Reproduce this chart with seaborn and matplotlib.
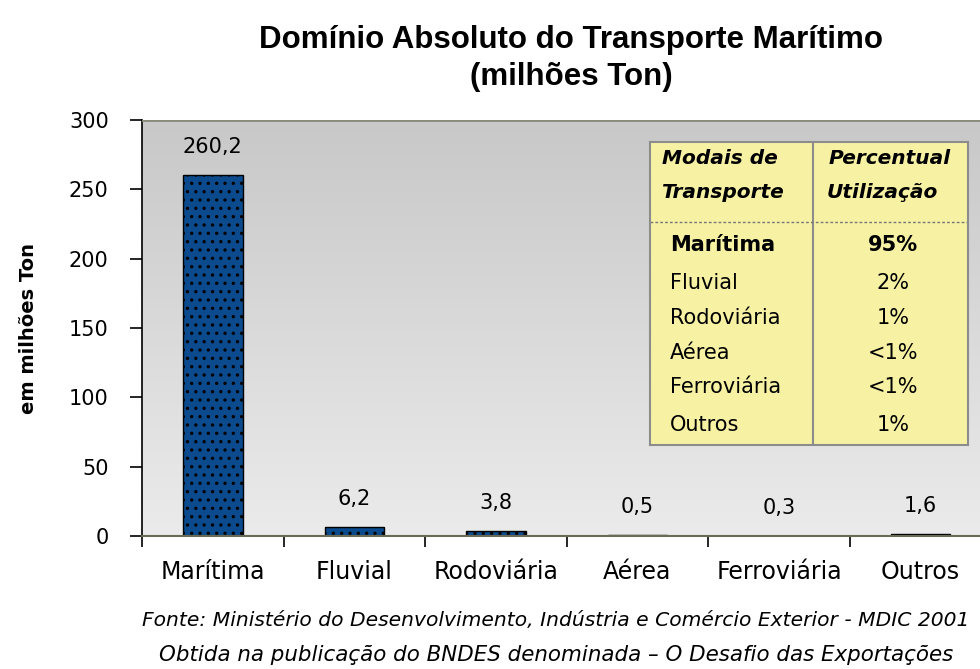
import numpy as np
import pandas as pd
import matplotlib
matplotlib.use("Agg")
import matplotlib.pyplot as plt
import seaborn as sns

# dados do gráfico
modais = ["Marítima", "Fluvial", "Rodoviária", "Aérea", "Ferroviária", "Outros"]
milhoes_ton = [260.2, 6.2, 3.8, 0.5, 0.3, 1.6]
rotulos = ["260,2", "6,2", "3,8", "0,5", "0,3", "1,6"]

# tabela de percentuais
tab_modais = ["Marítima", "Fluvial", "Rodoviária", "Aérea", "Ferroviária", "Outros"]
tab_percent = ["95%", "2%", "1%", "<1%", "<1%", "1%"]

titulo = "Domínio Absoluto do Transporte Marítimo\n(milhões Ton)"
fonte1 = "Fonte: Ministério do Desenvolvimento, Indústria e Comércio Exterior - MDIC 2001"
fonte2 = "Obtida na publicação do BNDES denominada \u2013 O Desafio das Exportações"

sns.set_style("white")
plt.rcParams["font.family"] = ["DejaVu Sans"]
plt.rcParams["text.color"] = "black"
plt.rcParams["axes.labelcolor"] = "black"
plt.rcParams["xtick.color"] = "black"
plt.rcParams["ytick.color"] = "black"
plt.rcParams["hatch.color"] = "black"
plt.rcParams["hatch.linewidth"] = 1.2

df = pd.DataFrame({"modal": modais, "valor": milhoes_ton})

fig = plt.figure(figsize=(9.8, 6.69), dpi=100)
ax = fig.add_axes([142 / 980, 1 - 536 / 669, 1 - 142 / 980, (536 - 120) / 669])

# fundo em degradê cinza
grad = np.linspace(0, 1, 256).reshape(-1, 1)
cmap_fundo = matplotlib.colors.LinearSegmentedColormap.from_list("g", ["#c8c8c8", "#ebebeb"])
ax.imshow(grad, extent=[0, 1, 0, 1], transform=ax.transAxes, cmap=cmap_fundo,
          aspect="auto", zorder=0, origin="upper")

sns.barplot(data=df, x="modal", y="valor", order=modais, color="#0b4a8c", width=0.42,
            edgecolor="black", linewidth=1.0, hatch="..", saturation=1, ax=ax, zorder=2)

ax.set_xlim(-0.5, 5.42)
ax.set_ylim(0, 300)
ax.set_yticks(range(0, 301, 50))
ax.tick_params(axis="y", labelsize=15, length=9, width=1.2, pad=15, direction="out", left=True)
ax.tick_params(axis="x", labelsize=17, length=0, pad=17)
ax.set_xticks(np.arange(-0.5, 5.5, 1), minor=True)
ax.tick_params(axis="x", which="minor", length=8, width=1.2, bottom=True, direction="out")
ax.set_xlabel("")
ax.set_ylabel("em milhões Ton", fontsize=14, fontweight="bold")
ax.yaxis.set_label_coords(-0.124, 0.5)

for s in ["top", "right"]:
    ax.spines[s].set_visible(False)
ax.spines["left"].set_color("black")
ax.spines["left"].set_linewidth(1.2)
ax.spines["bottom"].set_color("#6b6b55")
ax.spines["bottom"].set_linewidth(1.5)
ax.axhline(300, color="#8a8a7a", lw=2, zorder=3)

for i, r in enumerate(rotulos):
    ax.text(i, milhoes_ton[i] + 13, r, ha="center", va="bottom", fontsize=15)

fig.text(571 / 980, 0.963, titulo, ha="center", va="top", fontsize=22.5, fontweight="bold",
         family="Liberation Sans", linespacing=1.3)
fig.text(556 / 980, 1 - 620 / 669, fonte1, ha="center", va="center", fontsize=14.6, style="italic")
fig.text(556 / 980, 1 - 655 / 669, fonte2, ha="center", va="center", fontsize=15.4, style="italic")

# tabela amarela
tx0, tx1, ty0, ty1 = 650, 968, 142, 445
tab = fig.add_axes([tx0 / 980, 1 - ty1 / 669, (tx1 - tx0) / 980, (ty1 - ty0) / 669])
tab.set_facecolor("#f7f2a3")
tab.set_xlim(tx0, tx1)
tab.set_ylim(ty1, ty0)
tab.set_xticks([])
tab.set_yticks([])
for s in tab.spines.values():
    s.set_color("#8c8c8c")
    s.set_linewidth(1.5)
tab.axvline(813, color="#8c8c8c", lw=1.5)
tab.axhline(222, color="#777777", lw=1, ls=(0, (2, 1.5)))

cab = dict(ha="center", va="center", fontsize=14.5, style="italic", fontweight="bold")
tab.text(720, 158, "Modais de", **cab)
tab.text(722, 193, "Transporte", **cab)
tab.text(890, 158, "Percentual", **cab)
tab.text(882, 193, "Utilização", **cab)

linhas_y = [245, 283, 318, 353, 387, 425]
for k, (m, p) in enumerate(zip(tab_modais, tab_percent)):
    peso = "bold" if k == 0 else "normal"
    tab.text(670, linhas_y[k], m, ha="left", va="center", fontsize=15, fontweight=peso)
    tab.text(893, linhas_y[k], p, ha="center", va="center", fontsize=15, fontweight=peso)

fig.savefig("out.png", dpi=100)
